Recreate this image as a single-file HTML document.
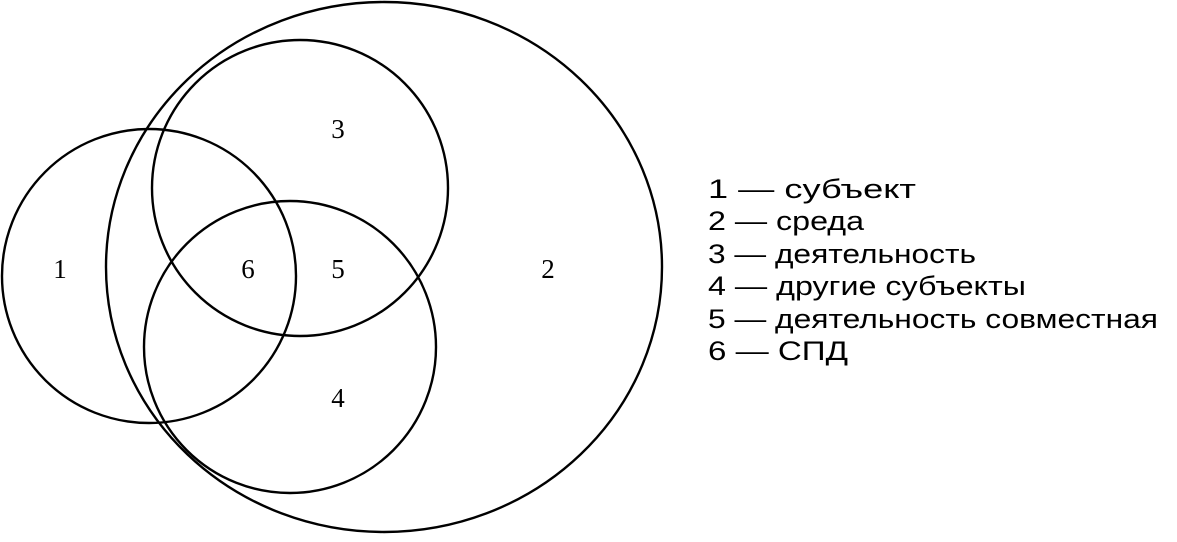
<!DOCTYPE html>
<html><head><meta charset="utf-8"><style>html,body{margin:0;padding:0;background:#fff}</style></head>
<body>
<svg width="1177" height="537" viewBox="0 0 1177 537" xmlns="http://www.w3.org/2000/svg">
<g fill="none" stroke="#000" stroke-width="2.4">
<ellipse cx="384" cy="267" rx="278" ry="265"/>
<circle cx="149" cy="276" r="147"/>
<circle cx="300" cy="188" r="148"/>
<circle cx="290" cy="347" r="146"/>
</g>
<g font-family="Liberation Serif, serif" font-size="27" text-anchor="middle">
<text x="60" y="278">1</text>
<text x="248" y="278">6</text>
<text x="338" y="278">5</text>
<text x="548" y="278">2</text>
<text x="338" y="138">3</text>
<text x="338" y="407">4</text>
</g>
<g font-family="Liberation Sans, sans-serif" font-size="27">
<text x="708" y="198" textLength="208" lengthAdjust="spacingAndGlyphs">1 — субъект</text>
<text x="708" y="230" textLength="156" lengthAdjust="spacingAndGlyphs">2 — среда</text>
<text x="708" y="263" textLength="268" lengthAdjust="spacingAndGlyphs">3 — деятельность</text>
<text x="708" y="295" textLength="318" lengthAdjust="spacingAndGlyphs">4 — другие субъекты</text>
<text x="708" y="328" textLength="450" lengthAdjust="spacingAndGlyphs">5 — деятельность совместная</text>
<text x="708" y="360" textLength="140" lengthAdjust="spacingAndGlyphs">6 — СПД</text>
</g>
</svg>
</body></html>
